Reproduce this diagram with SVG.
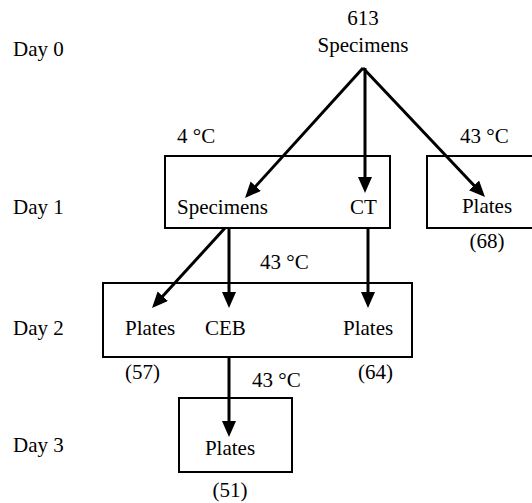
<svg xmlns="http://www.w3.org/2000/svg" width="532" height="503" viewBox="0 0 532 503">
<style>
text{font-family:"Liberation Serif","Times New Roman",serif;font-size:21px;fill:#000}
.box{fill:#fff;stroke:#000;stroke-width:2}
.c{text-anchor:middle}
.arr{stroke:#000;stroke-width:3;fill:none;marker-end:url(#ah)}
</style>
<defs>
<marker id="ah" markerUnits="userSpaceOnUse" markerWidth="18" markerHeight="16" refX="8" refY="7" orient="auto">
<path d="M0,0 L16,7 L0,14 z" fill="#000"/>
</marker>
</defs>
<g id="days">
<text x="13" y="56">Day 0</text>
<text x="13" y="214">Day 1</text>
<text x="13" y="335">Day 2</text>
<text x="13" y="452">Day 3</text>
</g>
<g id="start">
<text class="c" x="363" y="25">613</text>
<text class="c" x="363" y="52">Specimens</text>
</g>
<g id="box1">
<rect class="box" x="165" y="156" width="225" height="72"/>
<text x="177" y="214">Specimens</text>
<text x="350" y="214">CT</text>
<text x="177" y="143">4 °C</text>
</g>
<g id="boxR">
<rect class="box" x="427" y="156" width="115" height="72"/>
<text class="c" x="487" y="213">Plates</text>
<text class="c" x="487" y="248">(68)</text>
<text x="460" y="143">43 °C</text>
</g>
<g id="box2">
<rect class="box" x="103" y="283" width="309" height="74"/>
<text x="125" y="335">Plates</text>
<text x="205" y="335">CEB</text>
<text x="343" y="335">Plates</text>
<text x="125" y="379">(57)</text>
<text x="358" y="379">(64)</text>
<text x="260" y="269">43 °C</text>
</g>
<g id="box3">
<rect class="box" x="179" y="398" width="113" height="74"/>
<text class="c" x="230" y="455">Plates</text>
<text class="c" x="230" y="497">(51)</text>
<text x="252" y="387">43 °C</text>
</g>
<g id="connectors">
<line class="arr" x1="363" y1="68" x2="250.4" y2="192.1"/>
<line class="arr" x1="365" y1="68" x2="365" y2="185"/>
<line class="arr" x1="363" y1="68" x2="479.5" y2="191.2"/>
<line class="arr" x1="225" y1="228" x2="157.4" y2="302.1"/>
<line class="arr" x1="229" y1="228" x2="229" y2="300"/>
<line class="arr" x1="368" y1="228" x2="368" y2="300"/>
<line class="arr" x1="229" y1="357" x2="229" y2="429"/>
</g>
</svg>
